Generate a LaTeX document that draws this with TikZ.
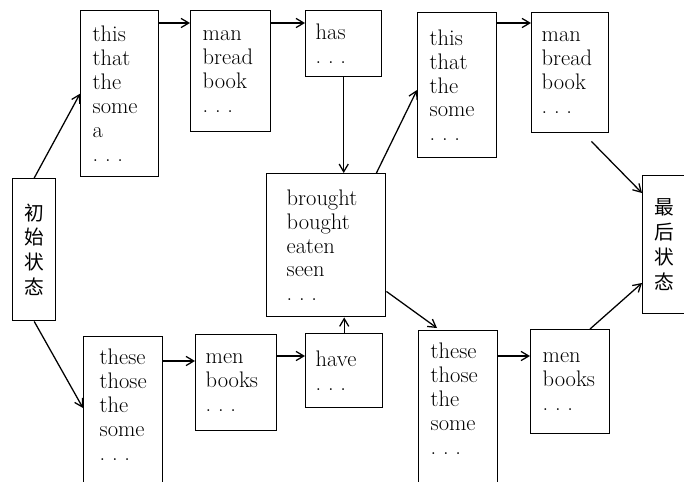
\documentclass[tikz,border=0pt]{standalone}
\usepackage{fontspec}
\usepackage{tikz}
\usetikzlibrary{calc,arrows.meta}
\newfontfamily\cjk{Noto Sans CJK SC}
\newcommand{\moredots}{.\kern0.3em.\kern0.3em.}

\tikzset{
	box/.style={draw, line width=1pt, anchor=north west, align=left, inner xsep=0.3cm, font=\fontsize{16}{17}\selectfont},
	statebox/.style={draw, line width=1pt, anchor=north west, align=center, inner sep=0pt, font=\cjk\fontsize{14}{17.7}\selectfont},
	>={Straight Barb[length=5.5pt,width=6.5pt]}
}

\begin{document}
\begin{tikzpicture}[x=0.025cm,y=-0.025cm,line width=0.9pt]
	\clip (0,0) rectangle (684,481);

	\node[statebox, minimum width=1.075cm, minimum height=3.55cm] (init) at (12,178) {初\\始\\状\\态};
	\node[box, text width=1.35cm, minimum height=4.15cm] (det1) at (80,10) {this\\that\\the\\some\\a\\\moredots};
	\node[box, text width=1.4cm, minimum height=3.025cm] (n1) at (190,10) {man\\bread\\book\\\moredots};
	\node[box, inner xsep=0.25cm, text width=1.4cm, minimum height=1.65cm] (has) at (305,10) {has\\\moredots};
	\node[box, inner xsep=0.5cm, text width=1.975cm, minimum height=3.575cm] (verb) at (266,173) {brought\\bought\\eaten\\seen\\\moredots};
	\node[box, text width=1.375cm, minimum height=3.625cm] (det2) at (417,12) {this\\that\\the\\some\\\moredots};
	\node[box, inner xsep=0.25cm, text width=1.425cm, minimum height=3cm] (n2) at (531,12) {man\\bread\\book\\\moredots};
	\node[statebox, minimum width=1.1cm, minimum height=3.45cm] (final) at (642,175) {最\\后\\状\\态};
	\node[box, inner xsep=0.4cm, text width=1.175cm, inner ysep=0.31cm, text depth=3cm] (det3) at (83,336) {these\\those\\the\\some\\\moredots};
	\node[box, inner xsep=0.25cm, text width=1.525cm, minimum height=2.4cm] (n3) at (195,334) {men\\books\\\moredots};
	\node[box, inner xsep=0.25cm, text width=1.425cm, minimum height=1.85cm] (have) at (305,333) {have\\\moredots};
	\node[box, text width=1.375cm, inner ysep=0.31cm, text depth=3cm] (det4) at (418,330) {these\\those\\the\\some\\\moredots};
	\node[box, text width=1.375cm, minimum height=2.6cm] (n4) at (530,329) {men\\books\\\moredots};

	\draw
		(init.north) edge[->] (det1.west)
		(init.south) edge[->] ($(det3.north west)+(0,72)$)
		($(det1.north east)+(0,13)$) edge[->] ($(n1.north west)+(0,13)$)
		($(n1.north east)+(0,13)$) edge[->] ($(has.north west)+(0,13)$)
		(has.south) edge[->] (has.south |- verb.north)
		($(verb.north east)+(-10,0)$) edge[->] ($(det2.north west)+(0,78)$)
		($(det2.north east)+(0,11)$) edge[->] ($(n2.north west)+(0,11)$)
		($(n2.south east)+(-18,8)$) edge[->] ($(final.north west)+(0,18)$)
		($(det3.north east)+(0,25)$) edge[->] ($(n3.north west)+(0,27)$)
		($(n3.north east)+(0,22)$) edge[->] ($(have.north west)+(0,23)$)
		(have.north) edge[->] (have.north |- verb.south)
		($(verb.south east)+(0,-26)$) edge[->] ($(det4.north west)+(19,-2)$)
		($(det4.north east)+(0,26)$) edge[->] ($(n4.north west)+(0,27)$)
		($(n4.north west)+(60,0)$) edge[->] ($(final.north west)+(0,108)$)
	;
\end{tikzpicture}
\end{document}
